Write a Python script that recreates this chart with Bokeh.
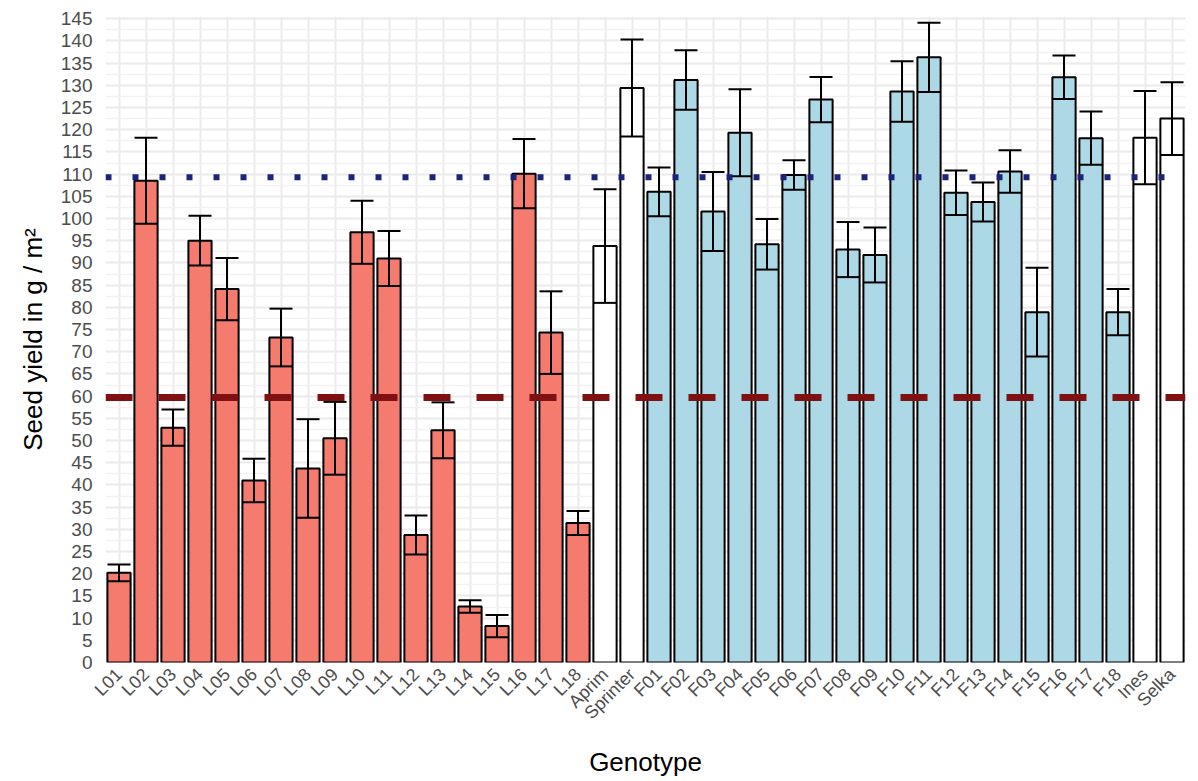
import math
from bokeh.plotting import figure
from bokeh.models import (ColumnDataSource, FactorRange, Range1d, Whisker, TeeHead,
                          Span, SingleIntervalTicker)
from bokeh.embed import file_html
from bokeh.resources import INLINE

genotypes = ["L01", "L02", "L03", "L04", "L05", "L06", "L07", "L08", "L09", "L10",
             "L11", "L12", "L13", "L14", "L15", "L16", "L17", "L18",
             "Aprim", "Sprinter",
             "F01", "F02", "F03", "F04", "F05", "F06", "F07", "F08", "F09", "F10",
             "F11", "F12", "F13", "F14", "F15", "F16", "F17", "F18",
             "Ines", "Selka"]
groups = ["L"] * 18 + ["check"] * 2 + ["F"] * 18 + ["check"] * 2
means = [20.2, 108.5, 52.9, 95.0, 84.1, 41.0, 73.2, 43.7, 50.5, 96.9,
         91.0, 28.7, 52.3, 12.6, 8.2, 110.1, 74.3, 31.4,
         93.8, 129.4,
         106.0, 131.2, 101.6, 119.3, 94.2, 109.8, 126.8, 93.0, 91.8, 128.6,
         136.3, 105.8, 103.7, 110.6, 78.9, 131.8, 118.1, 78.9,
         118.2, 122.5]
se = [1.9, 9.7, 4.1, 5.6, 7.0, 4.9, 6.5, 11.1, 8.2, 7.1,
      6.2, 4.4, 6.3, 1.4, 2.5, 7.8, 9.3, 2.7,
      12.8, 10.9,
      5.5, 6.7, 8.9, 9.8, 5.7, 3.3, 5.1, 6.2, 6.2, 6.8,
      7.8, 5.0, 4.4, 4.8, 10.0, 4.9, 6.0, 5.2,
      10.5, 8.2]
ref_high = 109.3   # dotted blue reference line
ref_low = 59.7     # dashed dark red reference line

group_colors = {"L": "#F47B6E", "F": "#ADD8E6", "check": "#FFFFFF"}

src = ColumnDataSource(dict(
    genotype=genotypes,
    mean=means,
    upper=[m + s for m, s in zip(means, se)],
    lower=[m - s for m, s in zip(means, se)],
    color=[group_colors[g] for g in groups],
))

FONT = "Liberation Sans"

p = figure(width=1190, height=781, output_backend="svg", toolbar_location=None,
           x_range=FactorRange(factors=genotypes, range_padding=0),
           y_range=Range1d(0, 145.5),
           min_border_left=105, min_border_right=5, min_border_top=16, min_border_bottom=119)
p.outline_line_color = None
p.background_fill_color = "white"

p.vbar(x="genotype", top="mean", width=0.86, source=src, fill_color="color",
       line_color="black", line_width=2)

p.add_layout(Whisker(base="genotype", upper="upper", lower="lower", source=src,
                     level="overlay", line_color="black", line_width=2,
                     upper_head=TeeHead(size=23, line_color="black", line_width=2),
                     lower_head=TeeHead(size=23, line_color="black", line_width=2)))

p.add_layout(Span(location=ref_low, dimension="width", line_color="#7F1113",
                  line_width=7, line_dash="27 26", level="overlay"))
p.add_layout(Span(location=ref_high, dimension="width", line_color="#1B237A",
                  line_width=6, line_dash="6 21", level="overlay"))

# y axis
p.yaxis.ticker = SingleIntervalTicker(interval=5, num_minor_ticks=2)
p.yaxis.axis_label = "Seed yield in g / m²"
p.yaxis.axis_label_text_font = FONT
p.yaxis.axis_label_text_font_size = "26px"
p.yaxis.axis_label_text_font_style = "normal"
p.yaxis.axis_label_text_color = "black"
p.yaxis.axis_label_standoff = 10
p.yaxis.major_label_text_font = FONT
p.yaxis.major_label_text_font_size = "19px"
p.yaxis.major_label_text_color = "#4D4D4D"
p.yaxis.major_label_standoff = 7
p.yaxis.axis_line_color = None
p.yaxis.major_tick_line_color = None
p.yaxis.minor_tick_line_color = None

# x axis
p.xaxis.axis_label = "Genotype"
p.xaxis.axis_label_text_font = FONT
p.xaxis.axis_label_text_font_size = "26px"
p.xaxis.axis_label_text_font_style = "normal"
p.xaxis.axis_label_text_color = "black"
p.xaxis.axis_label_standoff = 14
p.xaxis.major_label_orientation = math.pi / 4
p.xaxis.major_label_text_font = FONT
p.xaxis.major_label_text_font_size = "18px"
p.xaxis.major_label_text_color = "#4D4D4D"
p.xaxis.major_label_standoff = 3
p.xaxis.axis_line_color = None
p.xaxis.major_tick_line_color = None

# grid
p.xgrid.grid_line_color = "#EBEBEB"
p.xgrid.grid_line_width = 2
p.ygrid.grid_line_color = "#EBEBEB"
p.ygrid.grid_line_width = 2
p.ygrid.minor_grid_line_color = "#F2F2F2"
p.ygrid.minor_grid_line_width = 1.5

open("out.html", "w").write(file_html(p, INLINE))
